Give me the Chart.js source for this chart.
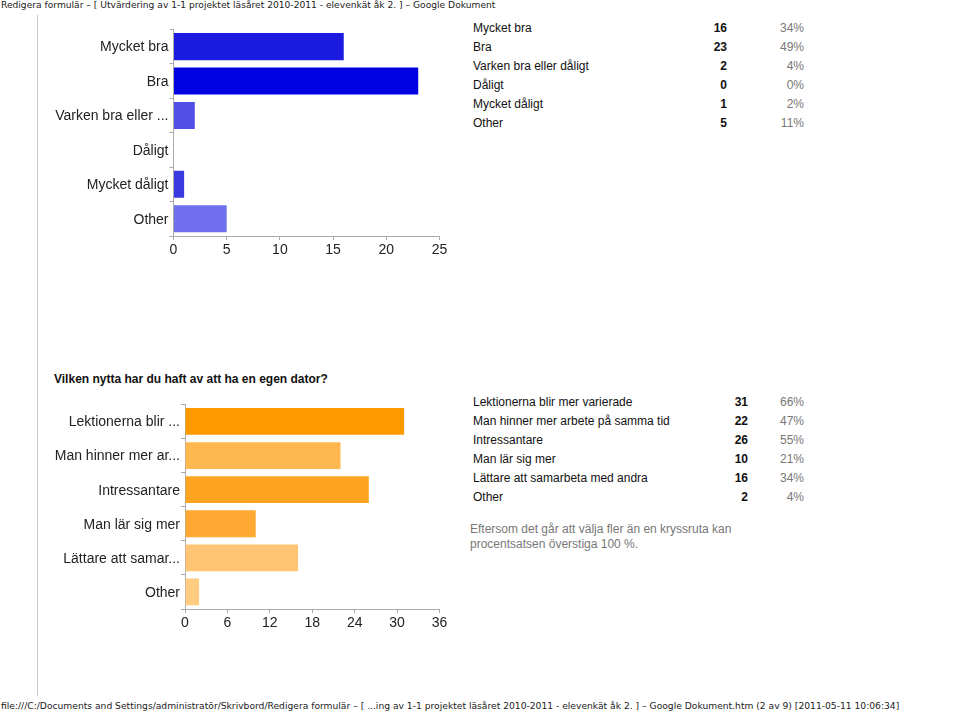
<!DOCTYPE html>
<html lang="sv"><head><meta charset="utf-8">
<script src="https://cdn.jsdelivr.net/npm/chart.js@4"></script>
<style>
html,body{margin:0;padding:0;background:#fff;width:960px;height:714px;overflow:hidden}
body{position:relative;font-family:"Liberation Sans",Arial,sans-serif;color:#111}
.t{position:absolute;white-space:nowrap;line-height:14px}
.hf{font-family:"DejaVu Sans",sans-serif;font-size:9.13px;color:#222}
.c{position:absolute;left:40px;width:420px}
canvas{display:block}
.row{font-size:12px;height:14px}
.n{font-weight:bold;text-align:right;color:#111}
.p{text-align:right;color:#777}
#vl{position:absolute;left:37px;top:15px;width:1px;height:681px;background:#c8c8c8}
</style></head><body>
<div class="t hf" style="left:1px;top:-2px">Redigera formulär – [ Utvärdering av 1-1 projektet läsåret 2010-2011 - elevenkät åk 2. ] – Google Dokument</div>
<div id="vl"></div>
<div class="c" style="top:20px;height:250px"><canvas id="a" width="420" height="250"></canvas></div>
<div class="t" style="left:54px;top:372px;font-size:12px;font-weight:bold;color:#111">Vilken nytta har du haft av att ha en egen dator?</div>
<div class="c" style="top:395px;height:250px"><canvas id="b" width="420" height="250"></canvas></div>
<div class="t" style="left:470px;top:522px;font-size:12px;color:#777;line-height:15px">Eftersom det går att välja fler än en kryssruta kan<br>procentsatsen överstiga 100 %.</div>
<div class="t hf" style="left:1px;top:699px;font-size:9.16px">file:///C:/Documents and Settings/administratör/Skrivbord/Redigera formulär – [ ...ing av 1-1 projektet läsåret 2010-2011 - elevenkät åk 2. ] – Google Dokument.htm (2 av 9) [2011-05-11 10:06:34]</div>
<script>
const labelsA = ["Mycket bra","Bra","Varken bra eller ...","Dåligt","Mycket dåligt","Other"];
const fullA = ["Mycket bra","Bra","Varken bra eller dåligt","Dåligt","Mycket dåligt","Other"];
const valuesA = [16,23,2,0,1,5];
const pctA = ["34%","49%","4%","0%","2%","11%"];
const colorsA = ["#1c1ce0","#0000e0","#5050e6","#2e2ee2","#3a3ae0","#7070ee"];
const ticksA = [0,5,10,15,20,25];

const labelsB = ["Lektionerna blir ...","Man hinner mer ar...","Intressantare","Man lär sig mer","Lättare att samar...","Other"];
const fullB = ["Lektionerna blir mer varierade","Man hinner mer arbete på samma tid","Intressantare","Man lär sig mer","Lättare att samarbeta med andra","Other"];
const valuesB = [31,22,26,10,16,2];
const pctB = ["66%","47%","55%","21%","34%","4%"];
const colorsB = ["#ff9900","#ffb850","#ffa420","#ffa832","#ffc474","#ffcc80"];
const ticksB = [0,6,12,18,24,30,36];

function mk(id,labels,values,colors,ticks,max,plotLeft,plotRight,plotTop,plotBottom){
  const W=420,H=250;
  new Chart(document.getElementById(id),{
    type:'bar',
    data:{labels,datasets:[{data:values,backgroundColor:colors,borderWidth:0,barPercentage:1,categoryPercentage:0.785}]},
    options:{
      indexAxis:'y',responsive:false,animation:false,devicePixelRatio:1,
      layout:{padding:{top:plotTop,right:W-plotRight,left:0,bottom:0}},
      plugins:{legend:{display:false},tooltip:{enabled:false}},
      scales:{
        x:{min:0,max,
          afterBuildTicks:s=>{s.ticks=ticks.map(v=>({value:v}));},
          afterFit:s=>{s.height=H-plotBottom;},
          grid:{display:true,drawOnChartArea:false,drawTicks:true,tickLength:4,tickColor:'#aaa'},
          border:{color:'#aaa'},
          ticks:{color:'#222',font:{family:'"Liberation Sans"',size:14},padding:2,maxRotation:0,autoSkip:false}},
        y:{
          afterFit:s=>{s.width=plotLeft;},
          grid:{display:true,drawOnChartArea:false,drawTicks:true,tickLength:4,tickColor:'#aaa'},
          border:{color:'#aaa'},
          ticks:{color:'#222',font:{family:'"Liberation Sans"',size:14},padding:1,labelOffset:1,autoSkip:false}}
      }
    }
  });
}
mk('a',labelsA,valuesA,colorsA,ticksA,25,133.5,399.5,8.5,216);
mk('b',labelsB,valuesB,colorsB,ticksB,36,145,399.5,7.5,214);

function table(full,values,pct,top,numRight){
  full.forEach((f,i)=>{
    const y=top+i*19;
    const a=document.createElement('div');a.className='t row';a.style.cssText=`left:473px;top:${y}px`;a.textContent=f;document.body.appendChild(a);
    const n=document.createElement('div');n.className='t row n';n.style.cssText=`right:${960-numRight}px;top:${y}px`;n.textContent=values[i];document.body.appendChild(n);
    const p=document.createElement('div');p.className='t row p';p.style.cssText=`right:156px;top:${y}px`;p.textContent=pct[i];document.body.appendChild(p);
  });
}
table(fullA,valuesA,pctA,21,727);
table(fullB,valuesB,pctB,395,748);
</script>
</body></html>
